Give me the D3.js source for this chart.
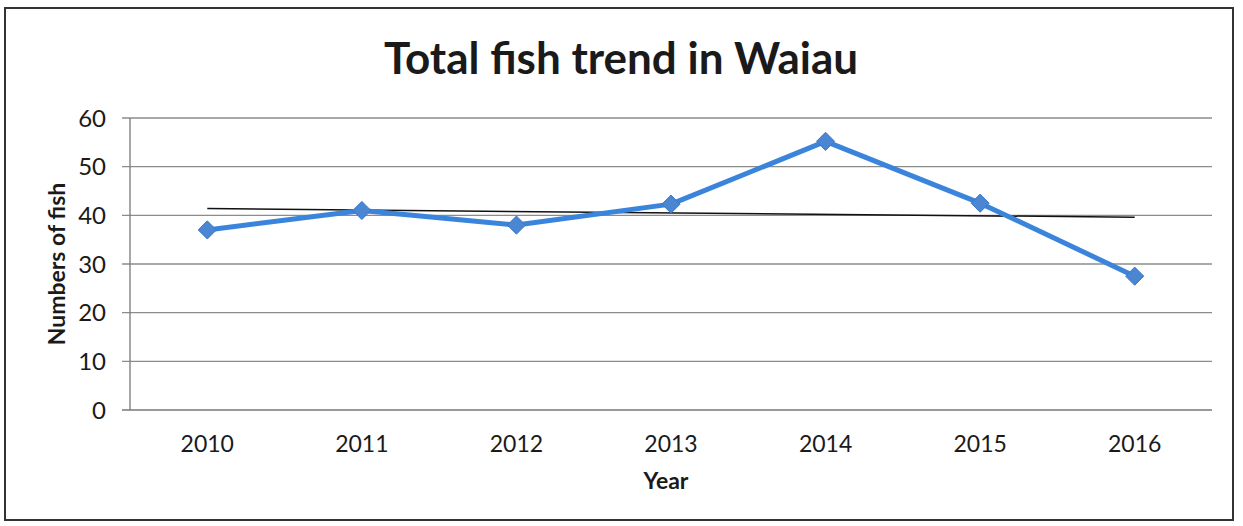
<!DOCTYPE html>
<html>
<head>
<meta charset="utf-8">
<script src="https://cdn.jsdelivr.net/npm/d3@7"></script>
<style>
  body { margin: 0; background: #fff; }
  text { font-family: Lato, "Open Sans", sans-serif; fill: #1a1a1a; }
</style>
</head>
<body>
<div id="chart"></div>
<script>
// data
const years = ["2010", "2011", "2012", "2013", "2014", "2015", "2016"];
const fishCounts = [37, 41, 38, 42.3, 55.2, 42.5, 27.5];
const yTicks = [0, 10, 20, 30, 40, 50, 60];

const W = 1243, H = 526;
const margin = {top: 118, right: 31, bottom: 116, left: 130};
const width = W - margin.left - margin.right;
const height = H - margin.top - margin.bottom;

const svg = d3.select("#chart").append("svg")
    .attr("width", W)
    .attr("height", H);

// chart frame
svg.append("rect")
    .attr("x", 5).attr("y", 8)
    .attr("width", 1228).attr("height", 512)
    .attr("fill", "none")
    .attr("stroke", "#333")
    .attr("stroke-width", 2);

svg.append("text")
    .attr("x", 621).attr("y", 74)
    .attr("text-anchor", "middle")
    .style("font-size", "44px")
    .style("font-weight", "bold")
    .text("Total fish trend in Waiau");

const g = svg.append("g")
    .attr("transform", "translate(" + margin.left + "," + margin.top + ")");

const x = d3.scalePoint().domain(years).range([0, width]).padding(0.5);
const y = d3.scaleLinear().domain([0, 60]).range([height, 0]);

// gridlines
g.append("g")
    .selectAll("line")
    .data(yTicks)
    .join("line")
    .attr("x1", -8).attr("x2", width)
    .attr("y1", d => y(d)).attr("y2", d => y(d))
    .attr("stroke", d => d === 0 ? "#777" : "#8c8c8c")
    .attr("stroke-width", 1.3);

// y axis line
g.append("line")
    .attr("x1", 0).attr("x2", 0)
    .attr("y1", 0).attr("y2", height)
    .attr("stroke", "#777")
    .attr("stroke-width", 1.3);

// y tick labels
g.append("g")
    .selectAll("text")
    .data(yTicks)
    .join("text")
    .attr("x", -24)
    .attr("y", d => y(d))
    .attr("dy", "0.36em")
    .attr("text-anchor", "end")
    .style("font-size", "24px")
    .text(d => d);

// x tick labels
g.append("g")
    .selectAll("text")
    .data(years)
    .join("text")
    .attr("x", d => x(d))
    .attr("y", height + 42)
    .attr("text-anchor", "middle")
    .style("font-size", "23px")
    .text(d => d);

svg.append("text")
    .attr("x", 666).attr("y", 489)
    .attr("text-anchor", "middle")
    .style("font-size", "23px")
    .style("font-weight", "bold")
    .text("Year");

svg.append("text")
    .attr("transform", "translate(65," + (margin.top + height / 2) + ") rotate(-90)")
    .attr("text-anchor", "middle")
    .style("font-size", "23px")
    .style("font-weight", "bold")
    .text("Numbers of fish");

// linear trendline (least squares over the series)
const n = fishCounts.length;
const xMean = d3.mean(d3.range(n));
const yMean = d3.mean(fishCounts);
const slope = d3.sum(fishCounts, (v, i) => (i - xMean) * (v - yMean)) /
              d3.sum(d3.range(n), i => (i - xMean) * (i - xMean));
const icpt = yMean - slope * xMean;

g.append("line")
    .attr("x1", x(years[0])).attr("x2", x(years[n - 1]))
    .attr("y1", y(icpt)).attr("y2", y(icpt + slope * (n - 1)))
    .attr("stroke", "#111")
    .attr("stroke-width", 1.5);

// series line
const line = d3.line()
    .x((d, i) => x(years[i]))
    .y(d => y(d));

g.append("path")
    .datum(fishCounts)
    .attr("d", line)
    .attr("fill", "none")
    .attr("stroke", "#3a84dc")
    .attr("stroke-width", 5)
    .attr("stroke-linejoin", "round");

// diamond markers
g.append("g")
    .selectAll("path")
    .data(fishCounts)
    .join("path")
    .attr("transform", (d, i) => "translate(" + x(years[i]) + "," + y(d) + ")")
    .attr("d", d3.symbol().type(d3.symbolDiamond2).size(210))
    .attr("fill", "#4a86d2")
    .attr("stroke", "#3a78c8")
    .attr("stroke-width", 1);
</script>
</body>
</html>
